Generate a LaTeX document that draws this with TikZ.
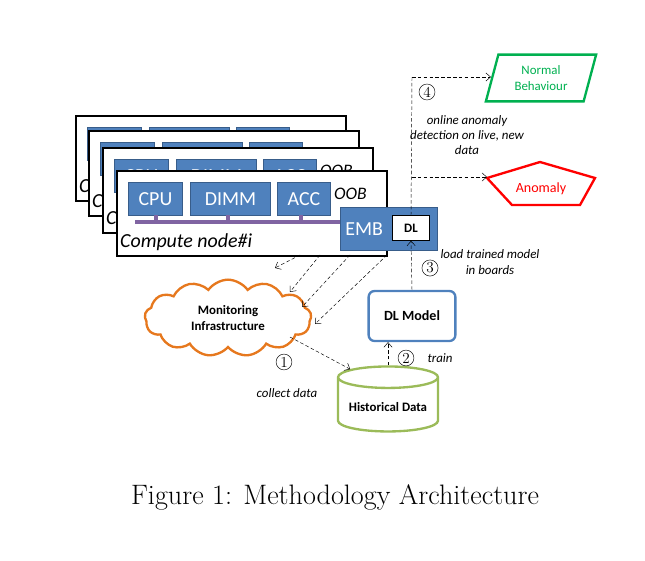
\documentclass[tikz,border=0pt]{standalone}
\usepackage{fontspec}
\setmainfont{Carlito}
\newfontfamily\capfont{Latin Modern Roman}
\usetikzlibrary{shapes.geometric, shapes.symbols, arrows.meta, positioning}
\definecolor{boxblue}{RGB}{79,129,189}
\definecolor{boxedge}{RGB}{56,93,138}
\definecolor{busviolet}{RGB}{128,100,162}
\definecolor{cloudorange}{RGB}{230,120,30}
\definecolor{dbgreen}{RGB}{155,187,89}
\definecolor{okgreen}{RGB}{0,176,80}
\tikzset{%
    part/.style={draw=boxedge, fill=boxblue, thick, text=white, minimum height=0.99cm,
        font=\fontsize{17}{17}\selectfont},
    frame/.style={draw=black, line width=1.6pt, fill=white, minimum width=8.1cm,
        minimum height=2.55cm, anchor=north west},
    flow/.style={densely dashed, -{Straight Barb[length=4pt,width=7pt]}},
    stepno/.style={circle, draw, inner sep=1pt, font=\capfont\fontsize{13}{13}\selectfont},
    note/.style={font=\itshape\fontsize{11}{13}\selectfont, align=center}
}
\begin{document}
\begin{tikzpicture}[x=0.03cm, y=-0.03cm]
\useasboundingbox (0,0) rectangle (645,561);
% stacked compute nodes, back to front
\foreach \fx/\fy [count=\k] in {75/115, 88/130, 102/147, 116/170}{
    \node[frame] (frame\k) at (\fx,\fy) {};
    \node[part, minimum width=1.62cm, anchor=north west] (cpu\k) at (\fx+12,\fy+12) {CPU};
    \node[part, minimum width=2.4cm, anchor=north west] (dimm\k) at (\fx+74,\fy+12) {DIMM};
    \node[part, minimum width=1.59cm, anchor=north west] (acc\k) at (\fx+161,\fy+12) {ACC};
    \node[anchor=west, font=\itshape\fontsize{15}{15}\selectfont] (oob\k) at (\fx+214,\fy+24) {OOB};
    \draw[busviolet, line width=4pt] (\fx+19,\fy+52) -- (\fx+230,\fy+52);
    \foreach \bx in {40,112,185}
        \draw[busviolet, line width=3pt] (\fx+\bx,\fy+45) -- (\fx+\bx,\fy+52);
    \node[anchor=west, font=\itshape\fontsize{17}{17}\selectfont] (name\k) at (\fx,\fy+72) {Compute node\#i};
}
\node[part, minimum width=2.9cm, minimum height=1.29cm, anchor=north west, text width=2.6cm,
    align=left] (emb) at (340,207) {EMB};
\node[draw=black, fill=white, minimum width=1.1cm, minimum height=0.75cm,
    font=\bfseries\fontsize{11}{11}\selectfont] (dl) at (411,228) {DL};
% monitoring and training
\node[cloud, cloud puffs=13, cloud puff arc=110, aspect=2.4, draw=cloudorange, line width=2pt,
    minimum width=5cm, minimum height=2.3cm, align=center,
    font=\bfseries\fontsize{11}{13}\selectfont] (cloud) at (228,318) {Monitoring\\Infrastructure};
\node[draw=boxblue, line width=2pt, rounded corners=5pt, minimum width=2.6cm, minimum height=1.5cm,
    font=\bfseries\fontsize{12}{12}\selectfont] (model) at (412,316) {DL Model};
\node[cylinder, shape border rotate=90, aspect=0.25, draw=dbgreen, line width=2pt,
    minimum width=3cm, minimum height=1.95cm, font=\bfseries\fontsize{11}{11}\selectfont] (hist) at (388,407) {Historical Data};
% results
\node[trapezium, trapezium left angle=75, trapezium right angle=105, draw=okgreen, line width=2pt,
    minimum width=2.5cm, minimum height=1.4cm, text=okgreen, align=center,
    font=\fontsize{11}{14}\selectfont] (normal) at (541,78) {Normal\\Behaviour};
\draw[red, line width=2pt] (540,162) -- (595,178) -- (580,205) -- (512,205) -- (487,178) -- cycle;
\node[text=red, font=\fontsize{12}{12}\selectfont] (anomaly) at (541,189) {Anomaly};
% dashed data flow
\coordinate (s1) at (300,255);
\coordinate (s2) at (320,255);
\coordinate (s3) at (350,255);
\coordinate (s4) at (387,255);
\coordinate (t1) at (275,268);
\coordinate (t2) at (290,292);
\coordinate (t3) at (302,307);
\coordinate (t4) at (315,324);
\foreach \i in {1,...,4}
    \draw[flow] (s\i) -- (t\i);
\coordinate (c1) at (290,337);
\draw[flow] (c1) -- (hist.north west);
\draw[flow] (hist.north) -- (model.south -| hist.north);
\draw[flow] (model.north) -- (dl.south);
\coordinate (split) at (412,177);
\coordinate (top) at (412,77);
\draw[densely dashed] (dl.north) -- (top);
\draw[flow] (top) -- (normal.west |- top);
\draw[flow] (split) -- (487,177);
% step labels
\node[stepno] (n1) at (284,362) {1};
\node[note] (l1) at (287,393) {collect data};
\node[stepno] (n2) at (406,358) {2};
\node[note] (l2) at (440,358) {train};
\node[stepno] (n3) at (430,268) {3};
\node[note] (l3) at (490,262) {load trained model\\in boards};
\node[stepno] (n4) at (427,92) {4};
\node[note] (l4) at (467,135) {online anomaly\\detection on live, new\\data};
\node[font=\capfont\fontsize{24}{24}\selectfont] (caption) at (335,497) {Figure 1: Methodology Architecture};
\end{tikzpicture}
\end{document}
